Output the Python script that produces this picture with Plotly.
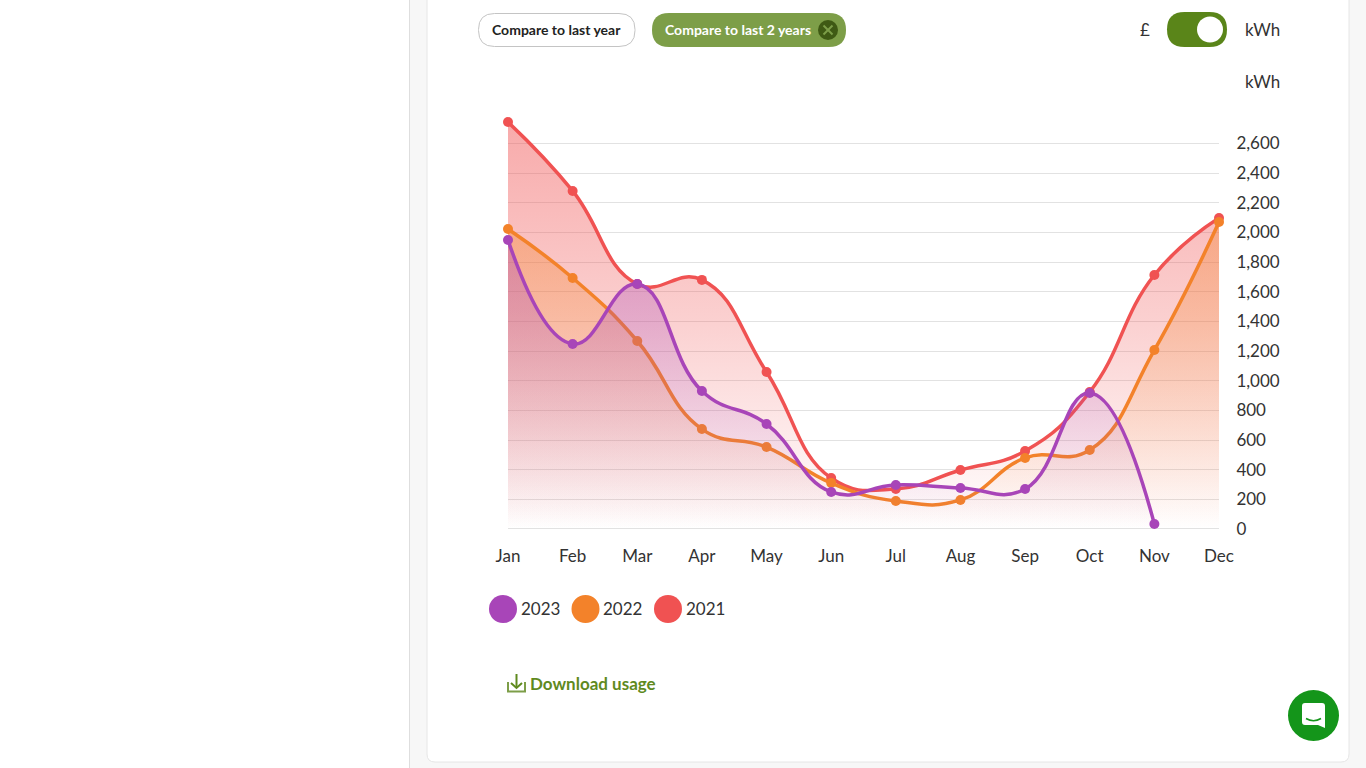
"""Consommation kWh sur trois ans, avec les contrôles de la page autour du graphique."""

import plotly.graph_objects as go

W, H = 1366, 768

# Données
MONTHS = ["Jan", "Feb", "Mar", "Apr", "May", "Jun", "Jul", "Aug", "Sep", "Oct", "Nov", "Dec"]
USAGE_2021 = [2745, 2280, 1652, 1680, 1059, 344, 270, 398, 526, 924, 1713, 2098]
USAGE_2022 = [2023, 1693, 1268, 674, 553, 310, 189, 196, 479, 533, 1207, 2070]
USAGE_2023 = [1949, 1248, 1652, 931, 708, 250, 297, 277, 270, 917, 34]
Y_TICKS = list(range(0, 2800, 200))
LEGEND_NAMES = ["2023", "2022", "2021"]

RED = "#f05252"
ORANGE = "#f3822a"
PURPLE = "#a845b8"
GREEN = "#5a8519"
LINK_GREEN = "#5f8a1e"
TEXT = "#333333"
FONT = "Lato, 'Open Sans', sans-serif"


def px(x):
    return x / W


def py(y):
    return 1 - y / H


def pill(x0, y0, x1, y1, r):
    # rectangle arrondi en fractions de la page
    return (
        f"M {px(x0 + r)} {py(y0)} L {px(x1 - r)} {py(y0)} "
        f"Q {px(x1)} {py(y0)} {px(x1)} {py(y0 + r)} L {px(x1)} {py(y1 - r)} "
        f"Q {px(x1)} {py(y1)} {px(x1 - r)} {py(y1)} L {px(x0 + r)} {py(y1)} "
        f"Q {px(x0)} {py(y1)} {px(x0)} {py(y1 - r)} L {px(x0)} {py(y0 + r)} "
        f"Q {px(x0)} {py(y0)} {px(x0 + r)} {py(y0)} Z"
    )


def box(x0, y0, x1, y1, fill, line=None, radius=0, layer="below", width=1):
    shape = dict(type="path", xref="paper", yref="paper", layer=layer, fillcolor=fill,
                 line=dict(color=line or "rgba(0,0,0,0)", width=width if line else 0))
    shape["path"] = pill(x0, y0, x1, y1, radius)
    return shape


def circle(cx, cy, r, fill, layer="above"):
    return dict(type="circle", xref="paper", yref="paper", layer=layer, fillcolor=fill,
                line=dict(width=0), x0=px(cx - r), x1=px(cx + r), y0=py(cy + r), y1=py(cy - r))


def stroke(points, color, width=2):
    path = "M " + " L ".join(f"{px(x)} {py(y)}" for x, y in points)
    return dict(type="path", xref="paper", yref="paper", layer="above", path=path,
                line=dict(color=color, width=width))


def label(x, y, text, size=17, color=TEXT, anchor="left", bold=False):
    return dict(xref="paper", yref="paper", x=px(x), y=py(y), text=f"<b>{text}</b>" if bold else text,
                showarrow=False, xanchor=anchor, yanchor="middle", borderpad=0, borderwidth=0,
                font=dict(family=FONT, size=size, color=color))


def area_trace(name, values, color, rgb):
    return go.Scatter(
        x=MONTHS[:len(values)], y=values, name=name, mode="lines+markers", cliponaxis=False,
        line=dict(color=color, width=3.5, shape="spline", smoothing=1.3),
        marker=dict(color=color, size=10),
        fill="tozeroy",
        fillgradient=dict(type="vertical", start=0, stop=2800,
                          colorscale=[[0, f"rgba({rgb},0)"], [0.5, f"rgba({rgb},0.27)"], [1, f"rgba({rgb},0.5)"]]),
        hoverinfo="x+y",
    )


fig = go.Figure()
fig.add_trace(area_trace("2021", USAGE_2021, RED, "240,82,82"))
fig.add_trace(area_trace("2022", USAGE_2022, ORANGE, "243,130,42"))
fig.add_trace(area_trace("2023", USAGE_2023, PURPLE, "168,69,184"))

shapes = [
    # fond de page et carte
    box(410, 0, 1366, 768, "#f7f7f7"),
    box(409, 0, 410, 768, "#dedede"),
    box(427, -20, 1349, 762, "#ffffff", line="#e6e6e6", radius=8),
    # boutons de comparaison
    box(478.5, 13.5, 635, 46.5, "#ffffff", line="#c4c4c4", radius=16, layer="above"),
    box(652, 13, 846, 47, "#7d9e48", radius=17, layer="above"),
    circle(828, 30, 10, "#3f5a14"),
    stroke([(823.5, 25.5), (832.5, 34.5)], "#7d9e48"),
    stroke([(823.5, 34.5), (832.5, 25.5)], "#7d9e48"),
    # interrupteur £ / kWh
    box(1167, 12, 1227, 47, GREEN, radius=17.5, layer="above"),
    circle(1210, 29.5, 13, "#ffffff"),
    # icône de téléchargement
    stroke([(508, 682), (508, 691.5), (525, 691.5), (525, 682)], "#7d9e48", 2),
    stroke([(516.5, 674), (516.5, 688)], LINK_GREEN, 2),
    stroke([(511, 683), (516.5, 688), (522, 683)], LINK_GREEN, 2),
    # bouton de chat
    circle(1313.5, 715.5, 25.5, "#14951a"),
    dict(type="path", xref="paper", yref="paper", layer="above", fillcolor="#ffffff", line=dict(width=0),
         path=(f"M {px(1305)} {py(703)} L {px(1322)} {py(703)} Q {px(1325)} {py(703)} {px(1325)} {py(706)} "
               f"L {px(1325)} {py(728)} L {px(1318)} {py(725)} L {px(1305)} {py(725)} "
               f"Q {px(1302)} {py(725)} {px(1302)} {py(722)} L {px(1302)} {py(706)} "
               f"Q {px(1302)} {py(703)} {px(1305)} {py(703)} Z")),
    dict(type="path", xref="paper", yref="paper", layer="above", line=dict(color="#14951a", width=1.5),
         path=f"M {px(1306)} {py(718.5)} Q {px(1313.5)} {py(723)} {px(1321)} {py(718.5)}"),
]

annotations = [
    label(556.5, 29.5, "Compare to last year", 14, "#222222", "center", bold=True),
    label(738, 29.5, "Compare to last 2 years", 14, "#ffffff", "center", bold=True),
    label(1145, 29.5, "£", 17, TEXT, "center"),
    label(1244.5, 29.5, "kWh"),
    label(1244.5, 81.5, "kWh"),
    label(530, 683.5, "Download usage", 17, LINK_GREEN, bold=True),
]

# Légende dessinée à la main : pastilles de 28 px, comme sur la page
for name, color, cx in zip(LEGEND_NAMES, [PURPLE, ORANGE, RED], [503, 585.5, 668]):
    shapes.append(circle(cx, 609, 14, color))
    annotations.append(label(cx + 17.5, 608.5, name))

PLOT_LEFT, PLOT_RIGHT = 508, 1219
PLOT_BOTTOM = 529
PX_PER_KWH = (529 - 143.5) / 2600
Y_MIN, Y_MAX = -10, 2800

fig.update_layout(
    width=W, height=H, margin=dict(l=0, r=0, t=0, b=0, pad=0),
    paper_bgcolor="#ffffff", plot_bgcolor="rgba(0,0,0,0)",
    showlegend=False, font=dict(family=FONT, size=17, color=TEXT),
    shapes=shapes, annotations=annotations,
    xaxis=dict(
        domain=[px(PLOT_LEFT), px(PLOT_RIGHT)], type="category", categoryorder="array", categoryarray=MONTHS,
        range=[0, 11], showgrid=False, zeroline=False, showline=False, automargin=False,
        ticks="outside", ticklen=10, tickcolor="rgba(0,0,0,0)", tickfont=dict(size=17, color=TEXT),
    ),
    yaxis=dict(
        domain=[py(PLOT_BOTTOM - Y_MIN * PX_PER_KWH), py(PLOT_BOTTOM - Y_MAX * PX_PER_KWH)],
        range=[Y_MIN, Y_MAX], side="right",
        tickvals=Y_TICKS, tickformat=",", showgrid=True, gridcolor="#e2e2e2", gridwidth=1, zeroline=False,
        showline=False, automargin=False, ticks="outside", ticklen=13, tickcolor="rgba(0,0,0,0)",
        tickfont=dict(size=17, color=TEXT),
    ),
)

fig.write_html(
    "out.html",
    config={"displayModeBar": False},
    post_script="document.body.style.margin='0';document.body.style.overflow='hidden';",
)
